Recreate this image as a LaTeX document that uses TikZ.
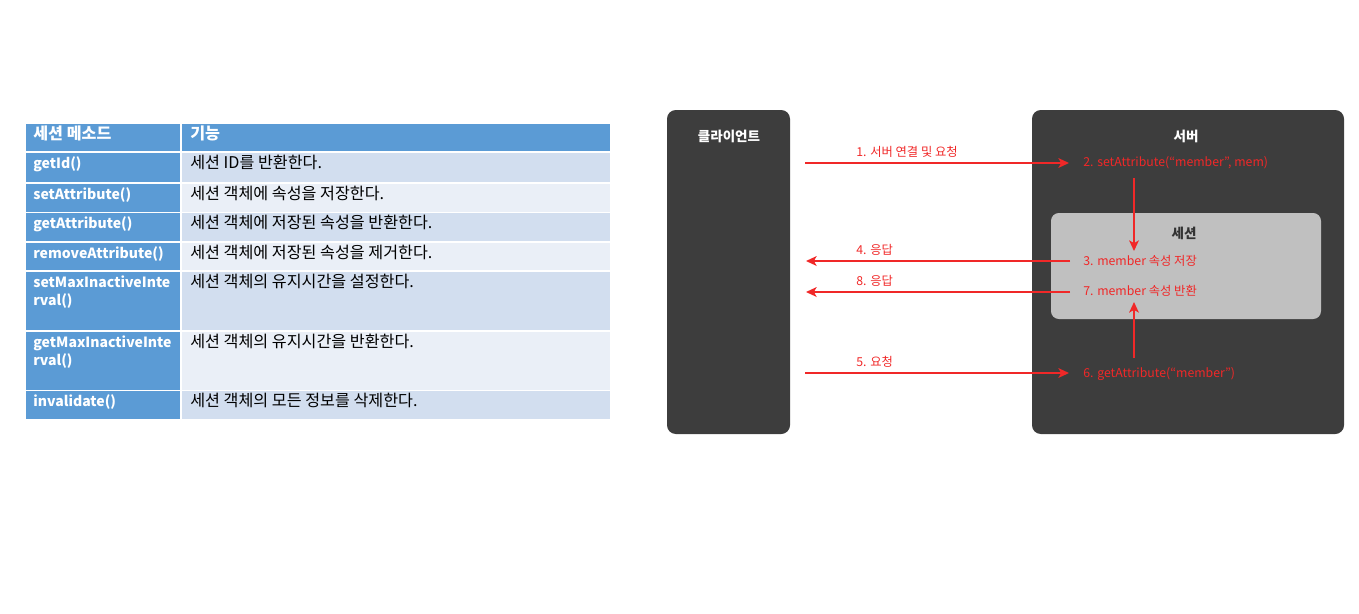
\documentclass[tikz,border=0pt]{standalone}
\usepackage{fontspec}
\setmainfont{Noto Sans CJK KR}
\usetikzlibrary{arrows.meta}
\definecolor{hdrblue}{RGB}{91,155,213}
\definecolor{rowA}{RGB}{210,222,239}
\definecolor{rowB}{RGB}{234,239,247}
\definecolor{boxdark}{RGB}{61,61,61}
\definecolor{sessgray}{RGB}{192,192,192}
\definecolor{arrred}{RGB}{240,40,40}
\definecolor{sesstitle}{RGB}{50,50,50}
\begin{document}
\begin{tikzpicture}[x=0.02cm,y=-0.02cm,
  methodtxt/.style={anchor=base west,inner sep=0pt,text=white,font=\fontsize{8}{10}\selectfont\bfseries},
  desctxt/.style={anchor=base west,inner sep=0pt,text=black,font=\fontsize{9.2}{10}\selectfont},
  hdrtxt/.style={anchor=base west,inner sep=0pt,text=white,font=\fontsize{9.2}{10}\selectfont\bfseries},
  panel/.style={fill=boxdark,rounded corners=5pt},
  panelttl/.style={inner sep=0pt,text=white,font=\fontsize{7.7}{8}\selectfont\bfseries},
  redlbl/.style={anchor=base west,inner sep=0pt,text=arrred,font=\fontsize{7}{8}\selectfont},
  redarrow/.style={draw=arrred,line width=1.1pt,-{Stealth[length=6pt,width=5.5pt,inset=1.5pt]}}]
\useasboundingbox (0,0) rectangle (1359,613);
% ---------- table ----------
\fill[hdrblue] (26,124) rectangle (180,151);
\fill[hdrblue] (182,124) rectangle (610,151);
\node[hdrtxt] (h1) at (33,139) {세션 메소드};
\node[hdrtxt] (h2) at (190,139) {기능};
\foreach \i/\ya/\yb/\col/\m/\d in {
  1/153/182/rowA/getId()/세션 ID를 반환한다.,
  2/184/212/rowB/setAttribute()/세션 객체에 속성을 저장한다.,
  3/213/241/rowA/getAttribute()/세션 객체에 저장된 속성을 반환한다.,
  4/243/270/rowB/removeAttribute()/세션 객체에 저장된 속성을 제거한다.,
  5/272/330/rowA/setMaxInactiveInte/세션 객체의 유지시간을 설정한다.,
  6/332/390/rowB/getMaxInactiveInte/세션 객체의 유지시간을 반환한다.,
  7/391/419/rowA/invalidate()/세션 객체의 모든 정보를 삭제한다.}{
  \fill[hdrblue] (26,\ya) rectangle (180,\yb);
  \fill[\col] (182,\ya) rectangle (610,\yb);
  \node[methodtxt] (m\i) at (33,\ya+15) {\m};
  \node[desctxt] (d\i) at (190,\ya+15) {\d};
}
\node[methodtxt] (m5b) at (33,305) {rval()};
\node[methodtxt] (m6b) at (33,365) {rval()};
% ---------- diagram ----------
\fill[panel] (667,110) rectangle (790,434);
\fill[panel] (1032,110) rectangle (1344,434);
\fill[sessgray,rounded corners=4.5pt] (1051,213) rectangle (1321,319);
\node[panelttl] (client) at (729,136) {클라이언트};
\node[panelttl] (server) at (1186,136) {서버};
\node[panelttl,text=sesstitle] (session) at (1184,233) {세션};
% labels
\node[redlbl] (l2) at (1083,166) {2. setAttribute(“member”, mem)};
\node[redlbl] (l3) at (1083,265) {3. member 속성 저장};
\node[redlbl] (l7) at (1083,295) {7. member 속성 반환};
\node[redlbl] (l6) at (1083,377) {6. getAttribute(“member”)};
\node[redlbl] (a1) at (856,156) {1. 서버 연결 및 요청};
\node[redlbl] (a4) at (856,254) {4. 응답};
\node[redlbl] (a8) at (856,285) {8. 응답};
\node[redlbl] (a5) at (856,366) {5. 요청};
% arrow ends
\coordinate (c1) at (805,163);
\coordinate (c4) at (806,261);
\coordinate (c8) at (806,292);
\coordinate (c5) at (805,373);
\coordinate (s1) at (1069,163);
\coordinate (s4) at (1070,261);
\coordinate (s8) at (1070,292);
\coordinate (s5) at (1069,373);
\coordinate (v1a) at (1134,178);
\coordinate (v1b) at (1134,251);
\coordinate (v2a) at (1134,358);
\coordinate (v2b) at (1134,302);
\draw[redarrow] (c1) -- (s1);
\draw[redarrow] (s4) -- (c4);
\draw[redarrow] (s8) -- (c8);
\draw[redarrow] (c5) -- (s5);
\draw[redarrow] (v1a) -- (v1b);
\draw[redarrow] (v2a) -- (v2b);
\end{tikzpicture}
\end{document}
